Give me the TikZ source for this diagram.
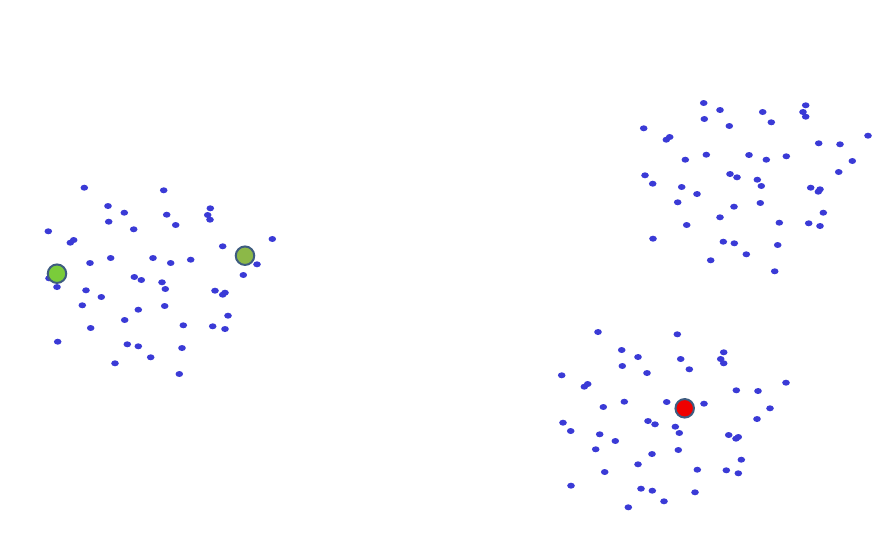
\documentclass[tikz,border=0pt]{standalone}
\usepackage{tikz}

\definecolor{dotblue}{RGB}{58,58,214}
\definecolor{ringblue}{RGB}{62,92,128}
\definecolor{limegreen}{RGB}{122,204,58}
\definecolor{olivegreen}{RGB}{140,184,72}
\definecolor{pointred}{RGB}{240,0,0}

\begin{document}
\begin{tikzpicture}[x=1pt,y=-1pt]
        % Define styles
        \tikzset{
            sample/.style={fill=dotblue},
            marked/.style={circle, draw=ringblue, line width=2pt, inner sep=0pt, minimum size=18.5pt}
        }
        \useasboundingbox (0,0) rectangle (882,536);

        % Cluster 1 (left)
        \foreach \x/\y in {84.3/187.7, 163.7/190.3, 108/206, 124.3/212.7, 166.7/214.7, 210.3/208.3, 207.7/215, 210/219.7,
            108.7/221.7, 175.7/225, 133.7/229.3, 48.3/231.3, 73.7/240, 70.3/242.7, 222.7/246.3, 272.3/239,
            257/264.3, 243.3/275, 90/263, 110.7/258, 153/258, 170.7/263, 190.7/259.7, 49/278.3, 57/287,
            134.3/277, 141.3/280, 162/282.3, 165.3/289, 86/290.3, 101.3/297, 215/290.7, 222.7/294.7, 225/292.7,
            82.3/305.3, 164.7/306, 138.3/309.7, 228/315.7, 124.7/320, 90.7/328, 183.3/325.3, 212.7/326.3,
            225/329, 57.7/341.7, 127.3/344.3, 138.3/346.3, 182/348, 150.7/357.3, 115/363.3, 179.3/374}
            \fill[sample] (\x,\y) ellipse (3.8 and 3.0);

        % Cluster 2 (upper right)
        \foreach \x/\y in {703.7/103, 720/110, 762.7/112, 805.7/105.3, 803/112, 805.7/116.7, 704.3/119, 771.3/122.3,
            729.3/126, 643.7/128.3, 669.7/137, 666.3/139.7, 818.7/143.3, 840/144.3, 868/135.7, 685.3/159.7,
            706.3/154.7, 749/155, 766.3/159.7, 786.3/156.3, 852.3/161, 838.7/172, 645/175.3, 652.7/183.7,
            730/174, 737/177.3, 757.3/179.7, 761.3/186, 681.7/187, 697/194, 810.7/187.7, 820/189.3, 818.3/191.7,
            677.7/202.3, 760.3/203, 734/206.7, 823.3/212.7, 720/217.3, 686.7/225, 779.3/222.7, 808.7/223.3,
            820/226, 653/238.7, 723.3/241.7, 734.3/243.3, 777.7/245, 746.3/254.3, 710.7/260.3, 774.7/271.3}
            \fill[sample] (\x,\y) ellipse (3.8 and 3.0);

        % Cluster 3 (lower right)
        \foreach \x/\y in {598/332, 677.3/334.3, 621.7/350, 638/357, 680.7/359, 723.7/352.3, 720.7/359, 723.7/363.3,
            622.3/366, 689.3/369.3, 647/373, 561.7/375.3, 587.7/384, 584.3/386.7, 736.3/390.3, 758/391,
            786/382.7, 603.3/407, 624.3/401.7, 666.7/402, 704/403.7, 770/408.3, 757/419, 563/422.7, 570.7/431,
            648/421, 655/424.3, 675.3/426.7, 679.3/433, 599.7/434.3, 615.3/441, 728.7/435, 738.3/437, 736/438.7,
            595.7/449.3, 678.3/450, 652/454, 741.3/459.7, 638/464.3, 604.7/472, 697.3/469.7, 726.3/470.3,
            738.3/473.3, 571/485.7, 641/488.7, 652.3/490.7, 695/492.3, 664/501.3, 628.3/507.3}
            \fill[sample] (\x,\y) ellipse (3.8 and 3.0);

        % Highlighted points
        \node[marked, fill=limegreen] (seed_left) at (57,273.7) {};
        \node[marked, fill=olivegreen] (seed_right) at (245,255.7) {};
        \node[marked, fill=pointred] (query_point) at (684.7,408.3) {};
\end{tikzpicture}
\end{document}
